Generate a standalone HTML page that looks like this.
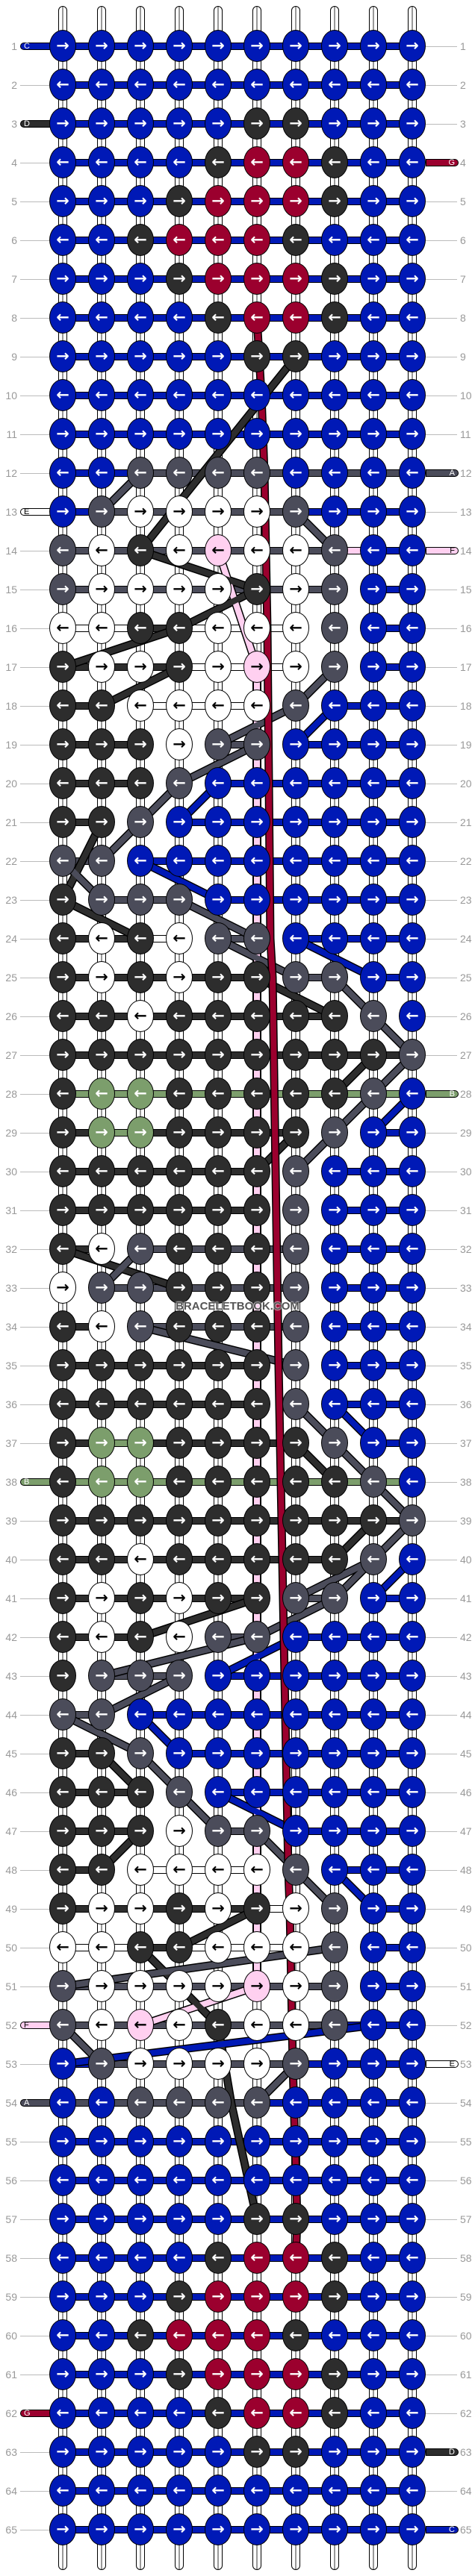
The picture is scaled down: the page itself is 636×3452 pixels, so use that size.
<!DOCTYPE html>
<html><head><meta charset="utf-8"><style>
*{margin:0;padding:0;box-sizing:content-box}
body{width:636px;height:3452px;background:#fff;position:relative;overflow:hidden;font-family:"Liberation Sans",sans-serif}
.c{position:absolute;top:8px;height:3434px;width:10px;border:1px solid #000;border-radius:6px;background:linear-gradient(90deg,#fff 42%,#999 42%,#999 58%,#fff 58%)}
#R{position:absolute;left:58px;top:36px}
.r{display:flex;height:52px}
.r b{position:relative;display:block;width:52px;height:52px}
.r b::after{content:"";position:absolute;left:26px;top:21px;width:52px;height:8px;border-top:1px solid #000;border-bottom:1px solid #000;background:#0019b6;z-index:1}
.r b.sk::after{background:#2d2d2d}.r b.sg::after{background:#4b4c5a}.r b.sw::after{background:#fff}.r b.sv::after{background:#7c9e6c}.r b.sp::after{background:#ffd0f0}.r b.sn::after{display:none}
.r i{position:absolute;left:8px;top:4px;width:34px;height:41px;border:1px solid #000;border-radius:50%;background:#0019b6;color:#fff;z-index:3;font-style:normal;text-align:center;line-height:41px;font-size:21px;font-weight:bold;font-family:"DejaVu Sans",sans-serif}
.r i.K{background:#2d2d2d}.r i.G{background:#4b4c5a}.r i.R{background:#9b002e}.r i.V{background:#7c9e6c}.r i.W{background:#fff;color:#000}.r i.P{background:#ffd0f0;color:#000}
#L{position:absolute;left:0;top:54px;width:636px}
#L div{position:relative;height:52px;font-size:14px;color:#999;line-height:16px}
#L div::before{content:"";position:absolute;left:27px;top:8px;width:39px;height:1px;background:#bbb}
#L div::after{content:"";position:absolute;left:570px;top:8px;width:42px;height:1px;background:#bbb}
#L s{position:absolute;left:0;width:23px;text-align:right;text-decoration:none}
#L u{position:absolute;left:616px;text-decoration:none}
.t{position:absolute;height:8px;width:40px;border:1px solid #000;z-index:2;font-size:11px;line-height:9px;color:#fff}
.tl{left:27px;border-radius:5px 0 0 5px;padding-left:4px;width:36px}
.tr{left:570px;border-radius:0 5px 5px 0;width:38px;padding-right:4px;text-align:right}
svg{position:absolute;left:0;top:0;z-index:2}
.wm{position:absolute;top:1742px;left:0;width:636px;text-align:center;font-weight:bold;font-size:15px;color:#555;z-index:4;text-shadow:0 0 2px #fff,0 0 2px #fff}
</style></head><body>
<div class="c" style="left:78px"></div><div class="c" style="left:130px"></div><div class="c" style="left:182px"></div><div class="c" style="left:234px"></div><div class="c" style="left:286px"></div><div class="c" style="left:338px"></div><div class="c" style="left:390px"></div><div class="c" style="left:442px"></div><div class="c" style="left:494px"></div><div class="c" style="left:546px"></div>

<svg width="636" height="3452" viewBox="0 0 636 3452">
<defs>
<polyline id="red" points="344,426 350,530 354,634 358,842 362,1258 365,1310 369,1570 373,1830 375,1934 382,2298 386,2506 388,2558 392,2766 398,2974 396,3026"/>
<polyline id="pk" points="292,738 344,894 344,2662 188,2714"/>
<g id="dk">
<polyline points="396,478 188,738 344,790 240,842 84,894"/>
<polyline points="240,894 136,946"/>
<polyline points="136,1102 84,1206 188,1258"/>
<polyline points="344,1310 448,1362"/>
<polyline points="500,1414 448,1466"/>
<polyline points="396,1518 344,1570"/>
<polyline points="84,1674 240,1726"/>
<polyline points="396,1934 448,1986"/>
<polyline points="448,2090 500,2038"/>
<polyline points="344,2142 188,2194"/>
<polyline points="136,2350 188,2402"/>
<polyline points="188,2454 136,2506"/>
<polyline points="344,2558 240,2610"/>
<polyline points="188,2610 292,2714 310,2820 344,2974"/>
</g>
<g id="gy">
<polyline points="188,634 136,686"/>
<polyline points="396,686 448,738"/>
<polyline points="448,894 396,946 292,998"/>
<polyline points="344,998 240,1050 188,1102 136,1154"/>
<polyline points="84,1154 136,1206"/>
<polyline points="240,1206 344,1258"/>
<polyline points="292,1258 396,1310"/>
<polyline points="448,1310 500,1362 552,1414 448,1518 396,1570"/>
<polyline points="188,1674 136,1726"/>
<polyline points="188,1778 396,1830"/>
<polyline points="396,1882 448,1934 500,1986 552,2038 448,2142 344,2194 136,2246"/>
<polyline points="500,2090 396,2142"/>
<polyline points="240,2246 136,2298"/>
<polyline points="84,2298 188,2350 240,2402 292,2454"/>
<polyline points="344,2454 396,2506 448,2558"/>
<polyline points="448,2610 84,2662"/>
<polyline points="84,2714 136,2766"/>
<polyline points="396,2766 344,2818"/>
</g>
<g id="bl">
<polyline points="448,946 396,998"/>
<polyline points="292,1050 240,1102"/>
<polyline points="188,1154 292,1206"/>
<polyline points="396,1258 500,1310"/>
<polyline points="552,1466 500,1518"/>
<polyline points="448,1882 500,1934"/>
<polyline points="552,2090 500,2142"/>
<polyline points="396,2194 292,2246"/>
<polyline points="188,2298 240,2350"/>
<polyline points="292,2402 396,2454"/>
<polyline points="448,2506 500,2558"/>
<polyline points="500,2714 84,2766"/>
</g>
</defs>
<g fill="none" stroke="#000" stroke-width="11"><use href="#pk"/><use href="#dk"/><use href="#gy"/><use href="#bl"/></g>
<g fill="none" stroke-width="8"><use href="#pk" stroke="#ffd0f0"/><use href="#dk" stroke="#2d2d2d"/><use href="#gy" stroke="#4b4c5a"/><use href="#bl" stroke="#0019b6"/></g>
<use href="#red" fill="none" stroke="#000" stroke-width="11"/>
<use href="#red" fill="none" stroke="#9b002e" stroke-width="8"/>
</svg>

<div id="L">
<div><s>1</s><u>1</u></div><div><s>2</s><u>2</u></div><div><s>3</s><u>3</u></div><div><s>4</s><u>4</u></div><div><s>5</s><u>5</u></div><div><s>6</s><u>6</u></div><div><s>7</s><u>7</u></div><div><s>8</s><u>8</u></div><div><s>9</s><u>9</u></div><div><s>10</s><u>10</u></div>
<div><s>11</s><u>11</u></div><div><s>12</s><u>12</u></div><div><s>13</s><u>13</u></div><div><s>14</s><u>14</u></div><div><s>15</s><u>15</u></div><div><s>16</s><u>16</u></div><div><s>17</s><u>17</u></div><div><s>18</s><u>18</u></div><div><s>19</s><u>19</u></div><div><s>20</s><u>20</u></div>
<div><s>21</s><u>21</u></div><div><s>22</s><u>22</u></div><div><s>23</s><u>23</u></div><div><s>24</s><u>24</u></div><div><s>25</s><u>25</u></div><div><s>26</s><u>26</u></div><div><s>27</s><u>27</u></div><div><s>28</s><u>28</u></div><div><s>29</s><u>29</u></div><div><s>30</s><u>30</u></div>
<div><s>31</s><u>31</u></div><div><s>32</s><u>32</u></div><div><s>33</s><u>33</u></div><div><s>34</s><u>34</u></div><div><s>35</s><u>35</u></div><div><s>36</s><u>36</u></div><div><s>37</s><u>37</u></div><div><s>38</s><u>38</u></div><div><s>39</s><u>39</u></div><div><s>40</s><u>40</u></div>
<div><s>41</s><u>41</u></div><div><s>42</s><u>42</u></div><div><s>43</s><u>43</u></div><div><s>44</s><u>44</u></div><div><s>45</s><u>45</u></div><div><s>46</s><u>46</u></div><div><s>47</s><u>47</u></div><div><s>48</s><u>48</u></div><div><s>49</s><u>49</u></div><div><s>50</s><u>50</u></div>
<div><s>51</s><u>51</u></div><div><s>52</s><u>52</u></div><div><s>53</s><u>53</u></div><div><s>54</s><u>54</u></div><div><s>55</s><u>55</u></div><div><s>56</s><u>56</u></div><div><s>57</s><u>57</u></div><div><s>58</s><u>58</u></div><div><s>59</s><u>59</u></div><div><s>60</s><u>60</u></div>
<div><s>61</s><u>61</u></div><div><s>62</s><u>62</u></div><div><s>63</s><u>63</u></div><div><s>64</s><u>64</u></div><div><s>65</s><u>65</u></div>
</div>

<div class="t tl" style="top:57px;background:#0019b6">C</div>
<div class="t tl" style="top:161px;background:#2d2d2d">D</div>
<div class="t tl" style="top:681px;background:#fff;color:#000">E</div>
<div class="t tl" style="top:1981px;background:#7c9e6c">B</div>
<div class="t tl" style="top:2709px;background:#ffd0f0;color:#000">F</div>
<div class="t tl" style="top:2813px;background:#4b4c5a">A</div>
<div class="t tl" style="top:3229px;background:#9b002e">G</div>
<div class="t tr" style="top:213px;background:#9b002e">G</div>
<div class="t tr" style="top:629px;background:#4b4c5a">A</div>
<div class="t tr" style="top:733px;background:#ffd0f0;color:#000">F</div>
<div class="t tr" style="top:1461px;background:#7c9e6c">B</div>
<div class="t tr" style="top:2761px;background:#fff;color:#000">E</div>
<div class="t tr" style="top:3281px;background:#2d2d2d">D</div>
<div class="t tr" style="top:3385px;background:#0019b6">C</div>

<div id="R">
<div class="r"><b><i>→</i></b><b><i>→</i></b><b><i>→</i></b><b><i>→</i></b><b><i>→</i></b><b><i>→</i></b><b><i>→</i></b><b><i>→</i></b><b><i>→</i></b><b class="sn"><i>→</i></b></div>
<div class="r"><b><i>←</i></b><b><i>←</i></b><b><i>←</i></b><b><i>←</i></b><b><i>←</i></b><b><i>←</i></b><b><i>←</i></b><b><i>←</i></b><b><i>←</i></b><b class="sn"><i>←</i></b></div>
<div class="r"><b><i>→</i></b><b><i>→</i></b><b><i>→</i></b><b><i>→</i></b><b><i>→</i></b><b><i class="K">→</i></b><b><i class="K">→</i></b><b><i>→</i></b><b><i>→</i></b><b class="sn"><i>→</i></b></div>
<div class="r"><b><i>←</i></b><b><i>←</i></b><b><i>←</i></b><b><i>←</i></b><b><i class="K">←</i></b><b><i class="R">←</i></b><b><i class="R">←</i></b><b><i class="K">←</i></b><b><i>←</i></b><b class="sn"><i>←</i></b></div>
<div class="r"><b><i>→</i></b><b><i>→</i></b><b><i>→</i></b><b><i class="K">→</i></b><b><i class="R">→</i></b><b><i class="R">→</i></b><b><i class="R">→</i></b><b><i class="K">→</i></b><b><i>→</i></b><b class="sn"><i>→</i></b></div>
<div class="r"><b><i>←</i></b><b><i>←</i></b><b><i class="K">←</i></b><b><i class="R">←</i></b><b><i class="R">←</i></b><b><i class="R">←</i></b><b><i class="K">←</i></b><b><i>←</i></b><b><i>←</i></b><b class="sn"><i>←</i></b></div>
<div class="r"><b><i>→</i></b><b><i>→</i></b><b><i>→</i></b><b><i class="K">→</i></b><b><i class="R">→</i></b><b><i class="R">→</i></b><b><i class="R">→</i></b><b><i class="K">→</i></b><b><i>→</i></b><b class="sn"><i>→</i></b></div>
<div class="r"><b><i>←</i></b><b><i>←</i></b><b><i>←</i></b><b><i>←</i></b><b><i class="K">←</i></b><b><i class="R">←</i></b><b><i class="R">←</i></b><b><i class="K">←</i></b><b><i>←</i></b><b class="sn"><i>←</i></b></div>
<div class="r"><b><i>→</i></b><b><i>→</i></b><b><i>→</i></b><b><i>→</i></b><b><i>→</i></b><b><i class="K">→</i></b><b><i class="K">→</i></b><b><i>→</i></b><b><i>→</i></b><b class="sn"><i>→</i></b></div>
<div class="r"><b><i>←</i></b><b><i>←</i></b><b><i>←</i></b><b><i>←</i></b><b><i>←</i></b><b><i>←</i></b><b><i>←</i></b><b><i>←</i></b><b><i>←</i></b><b class="sn"><i>←</i></b></div>
<div class="r"><b><i>→</i></b><b><i>→</i></b><b><i>→</i></b><b><i>→</i></b><b><i>→</i></b><b><i>→</i></b><b><i>→</i></b><b><i>→</i></b><b><i>→</i></b><b class="sn"><i>→</i></b></div>
<div class="r"><b><i>←</i></b><b><i>←</i></b><b class="sg"><i class="G">←</i></b><b class="sg"><i class="G">←</i></b><b class="sg"><i class="G">←</i></b><b class="sg"><i class="G">←</i></b><b class="sg"><i>←</i></b><b class="sg"><i>←</i></b><b class="sg"><i>←</i></b><b class="sn"><i>←</i></b></div>
<div class="r"><b><i>→</i></b><b class="sg"><i class="G">→</i></b><b class="sg"><i class="W">→</i></b><b class="sg"><i class="W">→</i></b><b class="sg"><i class="W">→</i></b><b class="sg"><i class="W">→</i></b><b><i class="G">→</i></b><b><i>→</i></b><b><i>→</i></b><b class="sn"><i>→</i></b></div>
<div class="r"><b class="sg"><i class="G">←</i></b><b class="sg"><i class="W">←</i></b><b class="sg"><i class="K">←</i></b><b class="sg"><i class="W">←</i></b><b class="sg"><i class="P">←</i></b><b class="sg"><i class="W">←</i></b><b class="sg"><i class="W">←</i></b><b class="sp"><i class="G">←</i></b><b><i>←</i></b><b class="sn"><i>←</i></b></div>
<div class="r"><b class="sg"><i class="G">→</i></b><b class="sg"><i class="W">→</i></b><b class="sg"><i class="W">→</i></b><b class="sg"><i class="W">→</i></b><b class="sg"><i class="W">→</i></b><b class="sg"><i class="K">→</i></b><b class="sg"><i class="W">→</i></b><b class="sn"><i class="G">→</i></b><b><i>→</i></b><b class="sn"><i>→</i></b></div>
<div class="r"><b class="sw"><i class="W">←</i></b><b class="sw"><i class="W">←</i></b><b class="sk"><i class="K">←</i></b><b class="sw"><i class="K">←</i></b><b class="sw"><i class="W">←</i></b><b class="sw"><i class="W">←</i></b><b class="sn"><i class="W">←</i></b><b class="sn"><i class="G">←</i></b><b><i>←</i></b><b class="sn"><i>←</i></b></div>
<div class="r"><b class="sk"><i class="K">→</i></b><b class="sk"><i class="W">→</i></b><b class="sk"><i class="W">→</i></b><b class="sw"><i class="K">→</i></b><b class="sw"><i class="W">→</i></b><b class="sw"><i class="P">→</i></b><b class="sn"><i class="W">→</i></b><b class="sn"><i class="G">→</i></b><b><i>→</i></b><b class="sn"><i>→</i></b></div>
<div class="r"><b class="sk"><i class="K">←</i></b><b class="sn"><i class="K">←</i></b><b class="sw"><i class="W">←</i></b><b class="sw"><i class="W">←</i></b><b class="sw"><i class="W">←</i></b><b class="sn"><i class="W">←</i></b><b class="sn"><i class="G">←</i></b><b><i>←</i></b><b><i>←</i></b><b class="sn"><i>←</i></b></div>
<div class="r"><b class="sk"><i class="K">→</i></b><b class="sk"><i class="K">→</i></b><b class="sn"><i class="K">→</i></b><b class="sn"><i class="W">→</i></b><b class="sg"><i class="G">→</i></b><b class="sn"><i class="G">→</i></b><b><i>→</i></b><b><i>→</i></b><b><i>→</i></b><b class="sn"><i>→</i></b></div>
<div class="r"><b class="sk"><i class="K">←</i></b><b class="sk"><i class="K">←</i></b><b class="sn"><i class="K">←</i></b><b class="sn"><i class="G">←</i></b><b><i>←</i></b><b><i>←</i></b><b><i>←</i></b><b><i>←</i></b><b><i>←</i></b><b class="sn"><i>←</i></b></div>
<div class="r"><b class="sk"><i class="K">→</i></b><b class="sn"><i class="K">→</i></b><b class="sn"><i class="G">→</i></b><b><i>→</i></b><b><i>→</i></b><b><i>→</i></b><b><i>→</i></b><b><i>→</i></b><b><i>→</i></b><b class="sn"><i>→</i></b></div>
<div class="r"><b class="sg"><i class="G">←</i></b><b class="sn"><i class="G">←</i></b><b><i>←</i></b><b><i>←</i></b><b><i>←</i></b><b><i>←</i></b><b><i>←</i></b><b><i>←</i></b><b><i>←</i></b><b class="sn"><i>←</i></b></div>
<div class="r"><b class="sn"><i class="K">→</i></b><b class="sg"><i class="G">→</i></b><b class="sg"><i class="G">→</i></b><b class="sn"><i class="G">→</i></b><b><i>→</i></b><b><i>→</i></b><b><i>→</i></b><b><i>→</i></b><b><i>→</i></b><b class="sn"><i>→</i></b></div>
<div class="r"><b class="sk"><i class="K">←</i></b><b class="sk"><i class="W">←</i></b><b class="sw"><i class="K">←</i></b><b class="sn"><i class="W">←</i></b><b class="sg"><i class="G">←</i></b><b class="sn"><i class="G">←</i></b><b><i>←</i></b><b><i>←</i></b><b><i>←</i></b><b class="sn"><i>←</i></b></div>
<div class="r"><b class="sk"><i class="K">→</i></b><b class="sk"><i class="W">→</i></b><b class="sk"><i class="K">→</i></b><b class="sk"><i class="W">→</i></b><b class="sk"><i class="K">→</i></b><b class="sn"><i class="K">→</i></b><b class="sg"><i class="G">→</i></b><b class="sn"><i class="G">→</i></b><b><i>→</i></b><b class="sn"><i>→</i></b></div>
<div class="r"><b class="sk"><i class="K">←</i></b><b class="sk"><i class="K">←</i></b><b class="sk"><i class="W">←</i></b><b class="sk"><i class="K">←</i></b><b class="sk"><i class="K">←</i></b><b class="sk"><i class="K">←</i></b><b class="sk"><i class="K">←</i></b><b class="sn"><i class="K">←</i></b><b class="sn"><i class="G">←</i></b><b class="sn"><i>←</i></b></div>
<div class="r"><b class="sk"><i class="K">→</i></b><b class="sk"><i class="K">→</i></b><b class="sk"><i class="K">→</i></b><b class="sk"><i class="K">→</i></b><b class="sk"><i class="K">→</i></b><b class="sk"><i class="K">→</i></b><b class="sk"><i class="K">→</i></b><b class="sk"><i class="K">→</i></b><b class="sk"><i class="K">→</i></b><b class="sn"><i class="G">→</i></b></div>
<div class="r"><b class="sv"><i class="K">←</i></b><b class="sv"><i class="V">←</i></b><b class="sv"><i class="V">←</i></b><b class="sv"><i class="K">←</i></b><b class="sv"><i class="K">←</i></b><b class="sv"><i class="K">←</i></b><b class="sv"><i class="K">←</i></b><b class="sv"><i class="K">←</i></b><b class="sv"><i class="G">←</i></b><b class="sn"><i>←</i></b></div>
<div class="r"><b class="sk"><i class="K">→</i></b><b class="sv"><i class="V">→</i></b><b class="sk"><i class="V">→</i></b><b class="sk"><i class="K">→</i></b><b class="sk"><i class="K">→</i></b><b class="sk"><i class="K">→</i></b><b class="sn"><i class="K">→</i></b><b class="sn"><i class="G">→</i></b><b><i>→</i></b><b class="sn"><i>→</i></b></div>
<div class="r"><b class="sk"><i class="K">←</i></b><b class="sk"><i class="K">←</i></b><b class="sk"><i class="K">←</i></b><b class="sk"><i class="K">←</i></b><b class="sk"><i class="K">←</i></b><b class="sn"><i class="K">←</i></b><b class="sn"><i class="G">←</i></b><b><i>←</i></b><b><i>←</i></b><b class="sn"><i>←</i></b></div>
<div class="r"><b class="sk"><i class="K">→</i></b><b class="sk"><i class="K">→</i></b><b class="sk"><i class="K">→</i></b><b class="sk"><i class="K">→</i></b><b class="sk"><i class="K">→</i></b><b class="sn"><i class="K">→</i></b><b class="sn"><i class="G">→</i></b><b><i>→</i></b><b><i>→</i></b><b class="sn"><i>→</i></b></div>
<div class="r"><b class="sk"><i class="K">←</i></b><b class="sn"><i class="W">←</i></b><b class="sg"><i class="G">←</i></b><b class="sg"><i class="K">←</i></b><b class="sg"><i class="K">←</i></b><b class="sg"><i class="K">←</i></b><b class="sn"><i class="G">←</i></b><b><i>←</i></b><b><i>←</i></b><b class="sn"><i>←</i></b></div>
<div class="r"><b class="sn"><i class="W">→</i></b><b class="sg"><i class="G">→</i></b><b class="sg"><i class="G">→</i></b><b class="sg"><i class="K">→</i></b><b class="sg"><i class="K">→</i></b><b class="sg"><i class="K">→</i></b><b class="sn"><i class="G">→</i></b><b><i>→</i></b><b><i>→</i></b><b class="sn"><i>→</i></b></div>
<div class="r"><b class="sk"><i class="K">←</i></b><b class="sn"><i class="W">←</i></b><b class="sg"><i class="G">←</i></b><b class="sg"><i class="K">←</i></b><b class="sg"><i class="K">←</i></b><b class="sg"><i class="K">←</i></b><b class="sn"><i class="G">←</i></b><b><i>←</i></b><b><i>←</i></b><b class="sn"><i>←</i></b></div>
<div class="r"><b class="sk"><i class="K">→</i></b><b class="sk"><i class="K">→</i></b><b class="sk"><i class="K">→</i></b><b class="sk"><i class="K">→</i></b><b class="sk"><i class="K">→</i></b><b class="sn"><i class="K">→</i></b><b class="sn"><i class="G">→</i></b><b><i>→</i></b><b><i>→</i></b><b class="sn"><i>→</i></b></div>
<div class="r"><b class="sk"><i class="K">←</i></b><b class="sk"><i class="K">←</i></b><b class="sk"><i class="K">←</i></b><b class="sk"><i class="K">←</i></b><b class="sk"><i class="K">←</i></b><b class="sn"><i class="K">←</i></b><b class="sn"><i class="G">←</i></b><b><i>←</i></b><b><i>←</i></b><b class="sn"><i>←</i></b></div>
<div class="r"><b class="sk"><i class="K">→</i></b><b class="sv"><i class="V">→</i></b><b class="sk"><i class="V">→</i></b><b class="sk"><i class="K">→</i></b><b class="sk"><i class="K">→</i></b><b class="sk"><i class="K">→</i></b><b class="sn"><i class="K">→</i></b><b class="sn"><i class="G">→</i></b><b><i>→</i></b><b class="sn"><i>→</i></b></div>
<div class="r"><b class="sv"><i class="K">←</i></b><b class="sv"><i class="V">←</i></b><b class="sv"><i class="V">←</i></b><b class="sv"><i class="K">←</i></b><b class="sv"><i class="K">←</i></b><b class="sv"><i class="K">←</i></b><b class="sv"><i class="K">←</i></b><b class="sv"><i class="K">←</i></b><b class="sv"><i class="G">←</i></b><b class="sn"><i>←</i></b></div>
<div class="r"><b class="sk"><i class="K">→</i></b><b class="sk"><i class="K">→</i></b><b class="sk"><i class="K">→</i></b><b class="sk"><i class="K">→</i></b><b class="sk"><i class="K">→</i></b><b class="sk"><i class="K">→</i></b><b class="sk"><i class="K">→</i></b><b class="sk"><i class="K">→</i></b><b class="sk"><i class="K">→</i></b><b class="sn"><i class="G">→</i></b></div>
<div class="r"><b class="sk"><i class="K">←</i></b><b class="sk"><i class="K">←</i></b><b class="sk"><i class="W">←</i></b><b class="sk"><i class="K">←</i></b><b class="sk"><i class="K">←</i></b><b class="sk"><i class="K">←</i></b><b class="sk"><i class="K">←</i></b><b class="sn"><i class="K">←</i></b><b class="sn"><i class="G">←</i></b><b class="sn"><i>←</i></b></div>
<div class="r"><b class="sk"><i class="K">→</i></b><b class="sk"><i class="W">→</i></b><b class="sk"><i class="K">→</i></b><b class="sk"><i class="W">→</i></b><b class="sk"><i class="K">→</i></b><b class="sn"><i class="K">→</i></b><b class="sg"><i class="G">→</i></b><b class="sn"><i class="G">→</i></b><b><i>→</i></b><b class="sn"><i>→</i></b></div>
<div class="r"><b class="sk"><i class="K">←</i></b><b class="sk"><i class="W">←</i></b><b class="sn"><i class="K">←</i></b><b class="sn"><i class="W">←</i></b><b class="sg"><i class="G">←</i></b><b class="sn"><i class="G">←</i></b><b><i>←</i></b><b><i>←</i></b><b><i>←</i></b><b class="sn"><i>←</i></b></div>
<div class="r"><b class="sn"><i class="K">→</i></b><b class="sg"><i class="G">→</i></b><b class="sg"><i class="G">→</i></b><b class="sn"><i class="G">→</i></b><b><i>→</i></b><b><i>→</i></b><b><i>→</i></b><b><i>→</i></b><b><i>→</i></b><b class="sn"><i>→</i></b></div>
<div class="r"><b class="sg"><i class="G">←</i></b><b class="sn"><i class="G">←</i></b><b><i>←</i></b><b><i>←</i></b><b><i>←</i></b><b><i>←</i></b><b><i>←</i></b><b><i>←</i></b><b><i>←</i></b><b class="sn"><i>←</i></b></div>
<div class="r"><b class="sk"><i class="K">→</i></b><b class="sn"><i class="K">→</i></b><b class="sn"><i class="G">→</i></b><b><i>→</i></b><b><i>→</i></b><b><i>→</i></b><b><i>→</i></b><b><i>→</i></b><b><i>→</i></b><b class="sn"><i>→</i></b></div>
<div class="r"><b class="sk"><i class="K">←</i></b><b class="sk"><i class="K">←</i></b><b class="sn"><i class="K">←</i></b><b class="sn"><i class="G">←</i></b><b><i>←</i></b><b><i>←</i></b><b><i>←</i></b><b><i>←</i></b><b><i>←</i></b><b class="sn"><i>←</i></b></div>
<div class="r"><b class="sk"><i class="K">→</i></b><b class="sk"><i class="K">→</i></b><b class="sn"><i class="K">→</i></b><b class="sn"><i class="W">→</i></b><b class="sg"><i class="G">→</i></b><b class="sn"><i class="G">→</i></b><b><i>→</i></b><b><i>→</i></b><b><i>→</i></b><b class="sn"><i>→</i></b></div>
<div class="r"><b class="sk"><i class="K">←</i></b><b class="sn"><i class="K">←</i></b><b class="sw"><i class="W">←</i></b><b class="sw"><i class="W">←</i></b><b class="sw"><i class="W">←</i></b><b class="sn"><i class="W">←</i></b><b class="sn"><i class="G">←</i></b><b><i>←</i></b><b><i>←</i></b><b class="sn"><i>←</i></b></div>
<div class="r"><b class="sk"><i class="K">→</i></b><b class="sk"><i class="W">→</i></b><b class="sk"><i class="W">→</i></b><b class="sk"><i class="K">→</i></b><b class="sk"><i class="W">→</i></b><b class="sw"><i class="K">→</i></b><b class="sn"><i class="W">→</i></b><b class="sn"><i class="G">→</i></b><b><i>→</i></b><b class="sn"><i>→</i></b></div>
<div class="r"><b class="sw"><i class="W">←</i></b><b class="sw"><i class="W">←</i></b><b class="sk"><i class="K">←</i></b><b class="sw"><i class="K">←</i></b><b class="sw"><i class="W">←</i></b><b class="sw"><i class="W">←</i></b><b class="sn"><i class="W">←</i></b><b class="sn"><i class="G">←</i></b><b><i>←</i></b><b class="sn"><i>←</i></b></div>
<div class="r"><b class="sg"><i class="G">→</i></b><b class="sg"><i class="W">→</i></b><b class="sg"><i class="W">→</i></b><b class="sg"><i class="W">→</i></b><b class="sg"><i class="W">→</i></b><b class="sg"><i class="P">→</i></b><b class="sg"><i class="W">→</i></b><b class="sn"><i class="G">→</i></b><b><i>→</i></b><b class="sn"><i>→</i></b></div>
<div class="r"><b class="sg"><i class="G">←</i></b><b class="sg"><i class="W">←</i></b><b class="sg"><i class="P">←</i></b><b class="sg"><i class="W">←</i></b><b class="sg"><i class="K">←</i></b><b class="sg"><i class="W">←</i></b><b class="sg"><i class="W">←</i></b><b><i class="G">←</i></b><b><i>←</i></b><b class="sn"><i>←</i></b></div>
<div class="r"><b><i>→</i></b><b class="sg"><i class="G">→</i></b><b class="sg"><i class="W">→</i></b><b class="sg"><i class="W">→</i></b><b class="sg"><i class="W">→</i></b><b class="sg"><i class="W">→</i></b><b><i class="G">→</i></b><b><i>→</i></b><b><i>→</i></b><b class="sn"><i>→</i></b></div>
<div class="r"><b class="sg"><i>←</i></b><b class="sg"><i>←</i></b><b class="sg"><i class="G">←</i></b><b class="sg"><i class="G">←</i></b><b class="sg"><i class="G">←</i></b><b><i class="G">←</i></b><b><i>←</i></b><b><i>←</i></b><b><i>←</i></b><b class="sn"><i>←</i></b></div>
<div class="r"><b><i>→</i></b><b><i>→</i></b><b><i>→</i></b><b><i>→</i></b><b><i>→</i></b><b><i>→</i></b><b><i>→</i></b><b><i>→</i></b><b><i>→</i></b><b class="sn"><i>→</i></b></div>
<div class="r"><b><i>←</i></b><b><i>←</i></b><b><i>←</i></b><b><i>←</i></b><b><i>←</i></b><b><i>←</i></b><b><i>←</i></b><b><i>←</i></b><b><i>←</i></b><b class="sn"><i>←</i></b></div>
<div class="r"><b><i>→</i></b><b><i>→</i></b><b><i>→</i></b><b><i>→</i></b><b><i>→</i></b><b><i class="K">→</i></b><b><i class="K">→</i></b><b><i>→</i></b><b><i>→</i></b><b class="sn"><i>→</i></b></div>
<div class="r"><b><i>←</i></b><b><i>←</i></b><b><i>←</i></b><b><i>←</i></b><b><i class="K">←</i></b><b><i class="R">←</i></b><b><i class="R">←</i></b><b><i class="K">←</i></b><b><i>←</i></b><b class="sn"><i>←</i></b></div>
<div class="r"><b><i>→</i></b><b><i>→</i></b><b><i>→</i></b><b><i class="K">→</i></b><b><i class="R">→</i></b><b><i class="R">→</i></b><b><i class="R">→</i></b><b><i class="K">→</i></b><b><i>→</i></b><b class="sn"><i>→</i></b></div>
<div class="r"><b><i>←</i></b><b><i>←</i></b><b><i class="K">←</i></b><b><i class="R">←</i></b><b><i class="R">←</i></b><b><i class="R">←</i></b><b><i class="K">←</i></b><b><i>←</i></b><b><i>←</i></b><b class="sn"><i>←</i></b></div>
<div class="r"><b><i>→</i></b><b><i>→</i></b><b><i>→</i></b><b><i class="K">→</i></b><b><i class="R">→</i></b><b><i class="R">→</i></b><b><i class="R">→</i></b><b><i class="K">→</i></b><b><i>→</i></b><b class="sn"><i>→</i></b></div>
<div class="r"><b><i>←</i></b><b><i>←</i></b><b><i>←</i></b><b><i>←</i></b><b><i class="K">←</i></b><b><i class="R">←</i></b><b><i class="R">←</i></b><b><i class="K">←</i></b><b><i>←</i></b><b class="sn"><i>←</i></b></div>
<div class="r"><b><i>→</i></b><b><i>→</i></b><b><i>→</i></b><b><i>→</i></b><b><i>→</i></b><b><i class="K">→</i></b><b><i class="K">→</i></b><b><i>→</i></b><b><i>→</i></b><b class="sn"><i>→</i></b></div>
<div class="r"><b><i>←</i></b><b><i>←</i></b><b><i>←</i></b><b><i>←</i></b><b><i>←</i></b><b><i>←</i></b><b><i>←</i></b><b><i>←</i></b><b><i>←</i></b><b class="sn"><i>←</i></b></div>
<div class="r"><b><i>→</i></b><b><i>→</i></b><b><i>→</i></b><b><i>→</i></b><b><i>→</i></b><b><i>→</i></b><b><i>→</i></b><b><i>→</i></b><b><i>→</i></b><b class="sn"><i>→</i></b></div>
</div>

<div class="wm">BRACELETBOOK.COM</div>
</body></html>
